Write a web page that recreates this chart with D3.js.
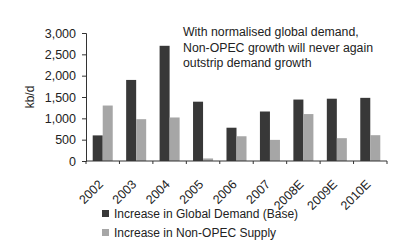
<!DOCTYPE html>
<html>
<head>
<meta charset="utf-8">
<script src="https://cdn.jsdelivr.net/npm/d3@7"></script>
<style>
  body { margin: 0; background: #fff; }
  text { font-family: "Liberation Sans", Arial, sans-serif; fill: #222; }
</style>
</head>
<body>
<div id="chart"></div>
<script>
// years on the x axis
const years = ["2002", "2003", "2004", "2005", "2006", "2007", "2008E", "2009E", "2010E"];
// kb/d
const demand = [600, 1900, 2700, 1390, 780, 1160, 1440, 1460, 1480];
const nonOpec = [1300, 980, 1020, 60, 580, 495, 1100, 535, 605];
const seriesNames = ["Increase in Global Demand (Base)", "Increase in Non-OPEC Supply"];
const yTicks = [0, 500, 1000, 1500, 2000, 2500, 3000];
const note = ["With normalised global demand,", "Non-OPEC growth will never again", "outstrip demand growth"];

const width = 400, height = 242;
const margin = { left: 86, right: 13, top: 33, bottom: 81 };
const colors = ["#383838", "#a6a6a6"];

const svg = d3.select("#chart").append("svg")
    .attr("width", width)
    .attr("height", height);

const x = d3.scaleBand()
    .domain(years)
    .range([margin.left, width - margin.right]);

const xInner = d3.scaleBand()
    .domain([0, 1])
    .range([0, x.bandwidth()])
    .paddingOuter(0.67);

const y = d3.scaleLinear()
    .domain([0, 3000])
    .range([height - margin.bottom, margin.top]);

// bars
const groups = svg.selectAll(".year")
    .data(years)
    .enter().append("g")
    .attr("transform", d => `translate(${x(d)},0)`);

groups.selectAll("rect")
    .data((d, i) => [demand[i], nonOpec[i]])
    .enter().append("rect")
    .attr("x", (d, j) => xInner(j))
    .attr("width", xInner.bandwidth())
    .attr("y", d => y(d))
    .attr("height", d => y(0) - y(d))
    .attr("fill", (d, j) => colors[j]);

// y axis
const yAxis = svg.append("g")
    .attr("transform", `translate(${margin.left},0)`)
    .call(d3.axisLeft(y).tickValues(yTicks).tickFormat(d3.format(",")).tickSize(4).tickPadding(6));
yAxis.selectAll("text").style("font-size", "12.5px");
yAxis.selectAll("line, path").attr("stroke", "#333");

// x axis: ticks at the band edges
const xAxis = svg.append("g")
    .attr("transform", `translate(0,${y(0)})`);
xAxis.append("line")
    .attr("x1", margin.left).attr("x2", width - margin.right)
    .attr("stroke", "#333");
xAxis.selectAll(".edge")
    .data(years.concat(["end"]))
    .enter().append("line")
    .attr("x1", (d, i) => i < years.length ? x(d) : x.range()[1])
    .attr("x2", (d, i) => i < years.length ? x(d) : x.range()[1])
    .attr("y2", 3)
    .attr("stroke", "#333");
xAxis.selectAll(".lbl")
    .data(years)
    .enter().append("text")
    .attr("transform", d => `translate(${x(d) + x.bandwidth() / 2 - 2},${21}) rotate(-45)`)
    .attr("text-anchor", "end")
    .attr("dy", "0.35em")
    .style("font-size", "12.5px")
    .text(d => d);

// y label
svg.append("text")
    .attr("transform", `translate(34,${(margin.top + y(0)) / 2}) rotate(-90)`)
    .attr("text-anchor", "middle")
    .style("font-size", "12px")
    .text("kb/d");

// annotation
svg.append("g").selectAll("text")
    .data(note)
    .enter().append("text")
    .attr("x", 183)
    .attr("y", (d, i) => 36 + i * 15.5)
    .style("font-size", "12.3px")
    .text(d => d);

// legend
const legend = svg.selectAll(".legend")
    .data(seriesNames)
    .enter().append("g")
    .attr("transform", (d, i) => `translate(102,${213.5 + i * 19})`);

legend.append("rect")
    .attr("y", -3.5)
    .attr("width", 7)
    .attr("height", 7)
    .attr("fill", (d, i) => colors[i]);

legend.append("text")
    .attr("x", 12)
    .attr("dy", "0.35em")
    .style("font-size", "12px")
    .text(d => d);
</script>
</body>
</html>
